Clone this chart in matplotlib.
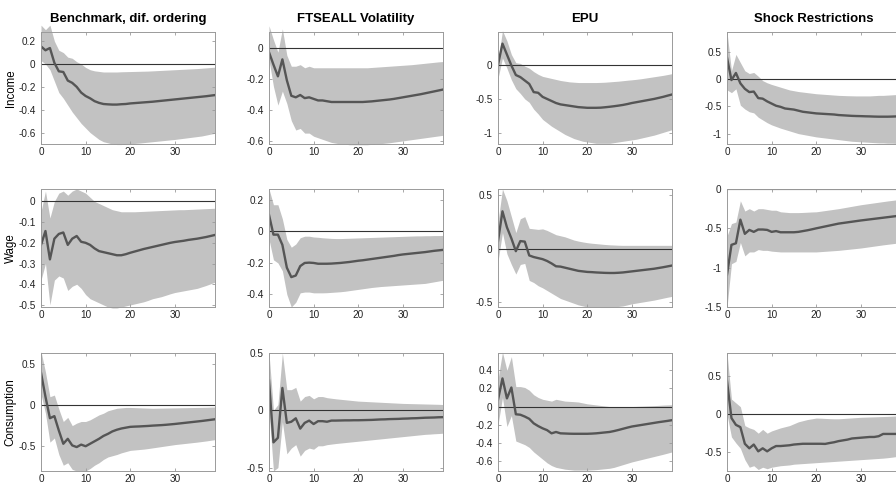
import numpy as np
import matplotlib.pyplot as plt
from matplotlib.ticker import FormatStrFormatter

plt.rcParams['font.family'] = ['Liberation Sans', 'DejaVu Sans']
plt.rcParams['axes.unicode_minus'] = False

horizon = np.arange(40)

col_titles = ["Benchmark, dif. ordering", "FTSEALL Volatility", "EPU", "Shock Restrictions"]
row_labels = ["Income", "Wage", "Consumption"]

# ---- Income responses ----
inc_bench = [0.154, 0.12, 0.14, 0.01, -0.064, -0.07, -0.145, -0.165, -0.2, -0.25,
             -0.28, -0.3, -0.325, -0.34, -0.35, -0.353, -0.355, -0.355, -0.352, -0.35,
             -0.345, -0.342, -0.339, -0.336, -0.333, -0.33, -0.326, -0.322, -0.318, -0.314,
             -0.31, -0.306, -0.302, -0.298, -0.294, -0.29, -0.286, -0.282, -0.277, -0.272]
inc_bench_hi = [0.34, 0.3, 0.34, 0.2, 0.12, 0.1, 0.06, 0.05, 0.02, 0.0,
                -0.03, -0.05, -0.06, -0.065, -0.07, -0.07, -0.07, -0.07, -0.068, -0.067,
                -0.066, -0.065, -0.064, -0.063, -0.062, -0.06, -0.058, -0.056, -0.054, -0.052,
                -0.05, -0.048, -0.046, -0.044, -0.042, -0.04, -0.037, -0.034, -0.031, -0.028]
inc_bench_lo = [0.03, 0.0, -0.05, -0.15, -0.25, -0.3, -0.36, -0.42, -0.47, -0.52,
                -0.56, -0.6, -0.63, -0.66, -0.68, -0.69, -0.7, -0.705, -0.705, -0.7,
                -0.698, -0.695, -0.692, -0.688, -0.684, -0.68, -0.676, -0.672, -0.668, -0.664,
                -0.66, -0.655, -0.65, -0.645, -0.64, -0.635, -0.63, -0.622, -0.614, -0.606]

inc_ftse = [-0.03, -0.11, -0.185, -0.076, -0.21, -0.31, -0.32, -0.305, -0.325, -0.32,
            -0.33, -0.34, -0.34, -0.345, -0.35, -0.35, -0.35, -0.35, -0.35, -0.35,
            -0.35, -0.35, -0.348, -0.346, -0.343, -0.34, -0.337, -0.334, -0.33, -0.325,
            -0.32, -0.315, -0.31, -0.305, -0.3, -0.294, -0.288, -0.282, -0.276, -0.27]
inc_ftse_hi = [0.14, 0.05, -0.03, 0.12, -0.05, -0.12, -0.12, -0.11, -0.13, -0.12,
               -0.13, -0.13, -0.13, -0.13, -0.13, -0.13, -0.13, -0.13, -0.13, -0.13,
               -0.13, -0.13, -0.13, -0.128, -0.126, -0.124, -0.122, -0.12, -0.118, -0.116,
               -0.114, -0.112, -0.11, -0.107, -0.104, -0.101, -0.098, -0.095, -0.092, -0.09]
inc_ftse_lo = [-0.08, -0.25, -0.37, -0.28, -0.36, -0.47, -0.53, -0.52, -0.55, -0.55,
               -0.57, -0.58, -0.59, -0.6, -0.61, -0.615, -0.62, -0.62, -0.625, -0.625,
               -0.625, -0.625, -0.625, -0.622, -0.62, -0.618, -0.615, -0.612, -0.608, -0.604,
               -0.6, -0.596, -0.592, -0.588, -0.584, -0.58, -0.576, -0.572, -0.568, -0.564]

inc_epu = [0.0, 0.31, 0.15, -0.01, -0.15, -0.18, -0.23, -0.28, -0.4, -0.41,
           -0.47, -0.5, -0.53, -0.56, -0.58, -0.59, -0.6, -0.61, -0.62, -0.625,
           -0.63, -0.63, -0.63, -0.628, -0.622, -0.615, -0.607, -0.598, -0.588, -0.575,
           -0.56, -0.548, -0.536, -0.524, -0.512, -0.5, -0.485, -0.47, -0.452, -0.435]
inc_epu_hi = [0.05, 0.5, 0.35, 0.15, 0.03, 0.02, -0.02, -0.05, -0.1, -0.14,
              -0.17, -0.185, -0.2, -0.215, -0.23, -0.24, -0.25, -0.255, -0.26, -0.26,
              -0.26, -0.26, -0.26, -0.258, -0.255, -0.25, -0.245, -0.24, -0.233, -0.226,
              -0.22, -0.213, -0.205, -0.195, -0.185, -0.175, -0.165, -0.155, -0.143, -0.13]
inc_epu_lo = [-0.2, 0.1, -0.05, -0.22, -0.35, -0.42, -0.5, -0.55, -0.65, -0.72,
              -0.8, -0.85, -0.9, -0.94, -0.98, -1.02, -1.05, -1.08, -1.1, -1.12,
              -1.13, -1.14, -1.15, -1.15, -1.15, -1.15, -1.14, -1.13, -1.12, -1.11,
              -1.1, -1.09, -1.075, -1.06, -1.045, -1.03, -1.01, -0.99, -0.97, -0.95]

inc_shock = [0.39, -0.02, 0.11, -0.08, -0.18, -0.24, -0.23, -0.35, -0.36, -0.41,
             -0.45, -0.49, -0.51, -0.54, -0.55, -0.56, -0.58, -0.6, -0.61, -0.62,
             -0.63, -0.635, -0.64, -0.645, -0.65, -0.66, -0.665, -0.67, -0.675, -0.678,
             -0.68, -0.683, -0.685, -0.688, -0.69, -0.69, -0.69, -0.688, -0.685, -0.68]
inc_shock_hi = [0.86, 0.15, 0.45, 0.3, 0.15, 0.1, 0.12, 0.05, -0.03, -0.07,
                -0.1, -0.125, -0.15, -0.175, -0.2, -0.215, -0.23, -0.24, -0.25, -0.26,
                -0.27, -0.276, -0.282, -0.288, -0.294, -0.3, -0.303, -0.306, -0.308, -0.31,
                -0.31, -0.31, -0.31, -0.305, -0.3, -0.3, -0.295, -0.29, -0.285, -0.28]
inc_shock_lo = [-0.2, -0.25, -0.18, -0.48, -0.55, -0.6, -0.62, -0.7, -0.75, -0.8,
                -0.84, -0.87, -0.9, -0.925, -0.95, -0.975, -1.0, -1.015, -1.03, -1.045,
                -1.06, -1.07, -1.08, -1.09, -1.1, -1.11, -1.12, -1.13, -1.14, -1.145,
                -1.15, -1.155, -1.16, -1.165, -1.17, -1.17, -1.175, -1.175, -1.18, -1.18]

# ---- Wage responses ----
wage_bench = [-0.21, -0.143, -0.28, -0.18, -0.157, -0.15, -0.21, -0.18, -0.167, -0.195,
              -0.2, -0.21, -0.227, -0.24, -0.245, -0.25, -0.255, -0.26, -0.26, -0.255,
              -0.248, -0.242, -0.236, -0.23, -0.225, -0.22, -0.215, -0.21, -0.205, -0.2,
              -0.196, -0.193, -0.19, -0.186, -0.183, -0.18, -0.176, -0.172, -0.167, -0.162]
wage_bench_hi = [-0.05, 0.05, -0.08, 0.0, 0.04, 0.05, 0.03, 0.05, 0.06, 0.05,
                 0.04, 0.02, 0.0, -0.01, -0.02, -0.03, -0.04, -0.045, -0.05, -0.05,
                 -0.05, -0.05, -0.049, -0.048, -0.047, -0.046, -0.045, -0.044, -0.043, -0.042,
                 -0.041, -0.04, -0.04, -0.039, -0.038, -0.037, -0.036, -0.035, -0.034, -0.033]
wage_bench_lo = [-0.38, -0.3, -0.5, -0.38, -0.36, -0.37, -0.43, -0.41, -0.4, -0.42,
                 -0.45, -0.47, -0.48, -0.49, -0.5, -0.51, -0.515, -0.515, -0.51, -0.505,
                 -0.5, -0.495, -0.49, -0.485, -0.478, -0.47, -0.465, -0.46, -0.453, -0.446,
                 -0.44, -0.436, -0.432, -0.428, -0.424, -0.42, -0.413, -0.406, -0.398, -0.39]

wage_ftse = [0.106, -0.02, -0.02, -0.085, -0.23, -0.29, -0.28, -0.22, -0.2, -0.198,
             -0.2, -0.205, -0.205, -0.205, -0.204, -0.202, -0.2, -0.197, -0.194, -0.19,
             -0.186, -0.183, -0.179, -0.175, -0.171, -0.167, -0.163, -0.159, -0.155, -0.15,
             -0.146, -0.143, -0.14, -0.137, -0.134, -0.131, -0.127, -0.123, -0.12, -0.117]
wage_ftse_hi = [0.27, 0.17, 0.17, 0.08, -0.05, -0.1, -0.08, -0.04, -0.03, -0.03,
                -0.035, -0.037, -0.04, -0.042, -0.044, -0.045, -0.045, -0.044, -0.043, -0.042,
                -0.041, -0.04, -0.039, -0.038, -0.037, -0.036, -0.035, -0.034, -0.033, -0.032,
                -0.031, -0.03, -0.029, -0.028, -0.028, -0.027, -0.027, -0.026, -0.026, -0.025]
wage_ftse_lo = [-0.05, -0.18, -0.2, -0.25, -0.4, -0.48, -0.45, -0.39, -0.385, -0.385,
                -0.39, -0.39, -0.39, -0.389, -0.387, -0.385, -0.383, -0.38, -0.376, -0.372,
                -0.368, -0.364, -0.36, -0.356, -0.353, -0.35, -0.348, -0.346, -0.344, -0.342,
                -0.34, -0.338, -0.336, -0.334, -0.332, -0.33, -0.325, -0.32, -0.315, -0.31]

wage_epu = [0.07, 0.35, 0.2, 0.095, -0.025, 0.07, 0.065, -0.065, -0.08, -0.09,
            -0.1, -0.117, -0.14, -0.167, -0.17, -0.18, -0.19, -0.2, -0.21, -0.215,
            -0.22, -0.222, -0.225, -0.227, -0.229, -0.23, -0.23, -0.228, -0.225, -0.22,
            -0.215, -0.21, -0.205, -0.2, -0.195, -0.19, -0.183, -0.176, -0.168, -0.16]
wage_epu_hi = [0.25, 0.56, 0.45, 0.3, 0.15, 0.28, 0.3, 0.19, 0.185, 0.18,
               0.185, 0.17, 0.15, 0.13, 0.12, 0.11, 0.095, 0.08, 0.07, 0.062,
               0.055, 0.05, 0.046, 0.042, 0.038, 0.035, 0.033, 0.031, 0.03, 0.03,
               0.03, 0.03, 0.03, 0.03, 0.03, 0.03, 0.03, 0.03, 0.03, 0.03]
wage_epu_lo = [-0.12, 0.15, -0.05, -0.15, -0.24, -0.15, -0.14, -0.3, -0.32, -0.35,
               -0.37, -0.395, -0.42, -0.445, -0.47, -0.485, -0.5, -0.515, -0.53, -0.54,
               -0.55, -0.552, -0.554, -0.555, -0.555, -0.555, -0.55, -0.545, -0.54, -0.53,
               -0.52, -0.513, -0.506, -0.499, -0.492, -0.485, -0.476, -0.467, -0.458, -0.45]

wage_shock = [-1.09, -0.71, -0.69, -0.39, -0.57, -0.52, -0.545, -0.515, -0.515, -0.52,
              -0.545, -0.535, -0.55, -0.55, -0.55, -0.55, -0.545, -0.535, -0.525, -0.513,
              -0.5, -0.488, -0.476, -0.464, -0.452, -0.44, -0.432, -0.424, -0.416, -0.408,
              -0.4, -0.393, -0.386, -0.379, -0.372, -0.365, -0.358, -0.351, -0.344, -0.337]
wage_shock_hi = [-0.6, -0.44, -0.42, -0.15, -0.28, -0.25, -0.28, -0.25, -0.25, -0.26,
                 -0.27, -0.27, -0.29, -0.295, -0.3, -0.3, -0.3, -0.298, -0.295, -0.292,
                 -0.29, -0.282, -0.274, -0.266, -0.258, -0.25, -0.24, -0.23, -0.22, -0.21,
                 -0.2, -0.192, -0.184, -0.176, -0.168, -0.16, -0.152, -0.145, -0.138, -0.13]
wage_shock_lo = [-1.5, -0.95, -0.92, -0.68, -0.85, -0.8, -0.8, -0.77, -0.78, -0.78,
                 -0.79, -0.795, -0.8, -0.8, -0.8, -0.8, -0.8, -0.8, -0.8, -0.8,
                 -0.8, -0.796, -0.792, -0.788, -0.784, -0.78, -0.774, -0.768, -0.762, -0.756,
                 -0.75, -0.742, -0.734, -0.726, -0.718, -0.71, -0.703, -0.696, -0.689, -0.68]

# ---- Consumption responses ----
cons_bench = [0.39, 0.1, -0.16, -0.135, -0.31, -0.47, -0.41, -0.49, -0.51, -0.48,
              -0.5, -0.47, -0.44, -0.41, -0.375, -0.35, -0.32, -0.3, -0.285, -0.275,
              -0.265, -0.262, -0.26, -0.257, -0.254, -0.25, -0.247, -0.244, -0.24, -0.235,
              -0.23, -0.224, -0.218, -0.212, -0.206, -0.2, -0.194, -0.187, -0.18, -0.173]
cons_bench_hi = [0.65, 0.4, 0.1, 0.12, -0.05, -0.2, -0.15, -0.25, -0.22, -0.2,
                 -0.2, -0.18, -0.15, -0.12, -0.1, -0.07, -0.055, -0.04, -0.035, -0.03,
                 -0.03, -0.032, -0.034, -0.036, -0.038, -0.04, -0.039, -0.038, -0.037, -0.036,
                 -0.035, -0.034, -0.033, -0.032, -0.031, -0.03, -0.029, -0.028, -0.026, -0.025]
cons_bench_lo = [0.13, -0.1, -0.45, -0.4, -0.6, -0.73, -0.7, -0.78, -0.8, -0.8,
                 -0.8, -0.77, -0.73, -0.7, -0.66, -0.63, -0.615, -0.6, -0.58, -0.565,
                 -0.55, -0.545, -0.54, -0.535, -0.528, -0.52, -0.512, -0.504, -0.496, -0.488,
                 -0.48, -0.474, -0.468, -0.462, -0.456, -0.45, -0.443, -0.436, -0.428, -0.42]

cons_ftse = [0.26, -0.28, -0.24, 0.195, -0.11, -0.1, -0.07, -0.16, -0.11, -0.09,
             -0.12, -0.095, -0.095, -0.1, -0.09, -0.09, -0.089, -0.088, -0.088, -0.087,
             -0.087, -0.086, -0.085, -0.084, -0.082, -0.08, -0.079, -0.077, -0.076, -0.075,
             -0.073, -0.072, -0.07, -0.069, -0.067, -0.065, -0.064, -0.063, -0.061, -0.06]
cons_ftse_hi = [0.5, 0.0, 0.05, 0.5, 0.18, 0.18, 0.2, 0.08, 0.12, 0.13,
                0.1, 0.12, 0.12, 0.11, 0.105, 0.1, 0.096, 0.092, 0.088, 0.084,
                0.08, 0.078, 0.076, 0.074, 0.072, 0.07, 0.068, 0.066, 0.064, 0.062,
                0.06, 0.059, 0.058, 0.057, 0.056, 0.055, 0.054, 0.053, 0.052, 0.05]
cons_ftse_lo = [0.0, -0.53, -0.5, -0.1, -0.38, -0.33, -0.3, -0.4, -0.35, -0.33,
                -0.34, -0.31, -0.31, -0.3, -0.295, -0.29, -0.286, -0.282, -0.278, -0.274,
                -0.27, -0.266, -0.262, -0.258, -0.254, -0.25, -0.246, -0.242, -0.238, -0.234,
                -0.23, -0.226, -0.222, -0.218, -0.214, -0.21, -0.208, -0.205, -0.203, -0.2]

cons_epu = [0.075, 0.31, 0.09, 0.21, -0.085, -0.09, -0.11, -0.135, -0.185, -0.215,
            -0.24, -0.26, -0.295, -0.28, -0.295, -0.297, -0.299, -0.3, -0.3, -0.3,
            -0.3, -0.298, -0.295, -0.29, -0.285, -0.28, -0.27, -0.258, -0.245, -0.232,
            -0.22, -0.212, -0.204, -0.196, -0.188, -0.18, -0.172, -0.165, -0.158, -0.15]
cons_epu_hi = [0.3, 0.6, 0.4, 0.55, 0.22, 0.22, 0.21, 0.18, 0.13, 0.1,
               0.08, 0.07, 0.06, 0.08, 0.07, 0.06, 0.057, 0.054, 0.05, 0.04,
               0.03, 0.024, 0.018, 0.012, 0.006, 0.0, 0.0, 0.0, 0.0, 0.0,
               0.0, 0.002, 0.004, 0.006, 0.008, 0.01, 0.013, 0.016, 0.018, 0.02]
cons_epu_lo = [-0.2, 0.1, -0.22, -0.1, -0.38, -0.4, -0.42, -0.45, -0.5, -0.54,
               -0.58, -0.62, -0.65, -0.67, -0.68, -0.69, -0.695, -0.7, -0.7, -0.7,
               -0.7, -0.698, -0.695, -0.69, -0.685, -0.68, -0.67, -0.655, -0.64, -0.625,
               -0.61, -0.598, -0.586, -0.574, -0.562, -0.55, -0.538, -0.526, -0.513, -0.5]

cons_shock = [0.44, -0.05, -0.14, -0.17, -0.39, -0.45, -0.4, -0.49, -0.45, -0.49,
              -0.45, -0.42, -0.42, -0.415, -0.41, -0.4, -0.395, -0.39, -0.39, -0.39,
              -0.39, -0.39, -0.392, -0.38, -0.37, -0.355, -0.345, -0.335, -0.32, -0.315,
              -0.31, -0.305, -0.3, -0.3, -0.29, -0.26, -0.26, -0.26, -0.26, -0.26]
cons_shock_hi = [0.81, 0.2, 0.15, 0.1, -0.15, -0.18, -0.2, -0.25, -0.2, -0.25,
                 -0.22, -0.2, -0.18, -0.165, -0.15, -0.125, -0.1, -0.085, -0.07, -0.06,
                 -0.05, -0.052, -0.055, -0.058, -0.06, -0.06, -0.056, -0.052, -0.048, -0.044,
                 -0.04, -0.038, -0.036, -0.034, -0.032, -0.03, -0.028, -0.025, -0.022, -0.02]
cons_shock_lo = [0.0, -0.3, -0.38, -0.45, -0.6, -0.7, -0.68, -0.73, -0.7, -0.72,
                 -0.7, -0.69, -0.68, -0.675, -0.67, -0.66, -0.656, -0.652, -0.648, -0.644,
                 -0.64, -0.636, -0.632, -0.628, -0.624, -0.62, -0.616, -0.612, -0.608, -0.604,
                 -0.6, -0.596, -0.592, -0.588, -0.584, -0.58, -0.574, -0.567, -0.559, -0.55]

panels = [
    [(inc_bench, inc_bench_lo, inc_bench_hi), (inc_ftse, inc_ftse_lo, inc_ftse_hi),
     (inc_epu, inc_epu_lo, inc_epu_hi), (inc_shock, inc_shock_lo, inc_shock_hi)],
    [(wage_bench, wage_bench_lo, wage_bench_hi), (wage_ftse, wage_ftse_lo, wage_ftse_hi),
     (wage_epu, wage_epu_lo, wage_epu_hi), (wage_shock, wage_shock_lo, wage_shock_hi)],
    [(cons_bench, cons_bench_lo, cons_bench_hi), (cons_ftse, cons_ftse_lo, cons_ftse_hi),
     (cons_epu, cons_epu_lo, cons_epu_hi), (cons_shock, cons_shock_lo, cons_shock_hi)],
]

ylims = [
    [(-0.70, 0.28), (-0.62, 0.10), (-1.16, 0.48), (-1.19, 0.86)],
    [(-0.51, 0.06), (-0.48, 0.27), (-0.55, 0.56), (-1.50, 0.0)],
    [(-0.80, 0.63), (-0.53, 0.50), (-0.71, 0.59), (-0.75, 0.81)],
]
yticks = [
    [[-0.6, -0.4, -0.2, 0, 0.2], [-0.6, -0.4, -0.2, 0], [-1, -0.5, 0], [-1, -0.5, 0, 0.5]],
    [[-0.5, -0.4, -0.3, -0.2, -0.1, 0], [-0.4, -0.2, 0, 0.2], [-0.5, 0, 0.5], [-1.5, -1, -0.5, 0]],
    [[-0.5, 0, 0.5], [-0.5, 0, 0.5], [-0.6, -0.4, -0.2, 0, 0.2, 0.4], [-0.5, 0, 0.5]],
]

W, H = 896, 486
fig = plt.figure(figsize=(W / 100, H / 100), dpi=100)

col_left = [41, 269, 498, 727]
row_top = [32, 189, 353]
row_bottom = [144, 307, 471]
ax_w = 174

for r in range(3):
    for c in range(4):
        x0 = col_left[c] / W
        y0 = 1 - row_bottom[r] / H
        h = (row_bottom[r] - row_top[r]) / H
        ax = fig.add_axes([x0, y0, ax_w / W, h])
        irf, lo, hi = panels[r][c]
        ax.fill_between(horizon, lo, hi, color='#c2c2c2', linewidth=0, clip_on=False)
        ax.plot(horizon, np.zeros(len(horizon)), color='#333333', linewidth=0.8)
        ax.plot(horizon, irf, color='#555555', linewidth=1.7)
        ax.set_xlim(0, 39)
        ax.set_ylim(*ylims[r][c])
        ax.set_xticks([0, 10, 20, 30])
        ax.set_yticks(yticks[r][c])
        ax.yaxis.set_major_formatter(FormatStrFormatter('%g'))
        ax.tick_params(direction='in', length=2.5, width=0.6, labelsize=7.2,
                       top=True, right=True, colors='#9a9a9a', labelcolor='#222222')
        ax.tick_params(axis='y', pad=4)
        ax.tick_params(axis='x', pad=2.5)
        for s in ax.spines.values():
            s.set_color('#9a9a9a')
            s.set_linewidth(0.7)
        if r == 0:
            ax.set_title(col_titles[c], fontsize=9.5, fontweight='bold', pad=7)
        if c == 0:
            ax.set_ylabel(row_labels[r], fontsize=8.3, labelpad=1)

fig.savefig('out.png', dpi=100)
